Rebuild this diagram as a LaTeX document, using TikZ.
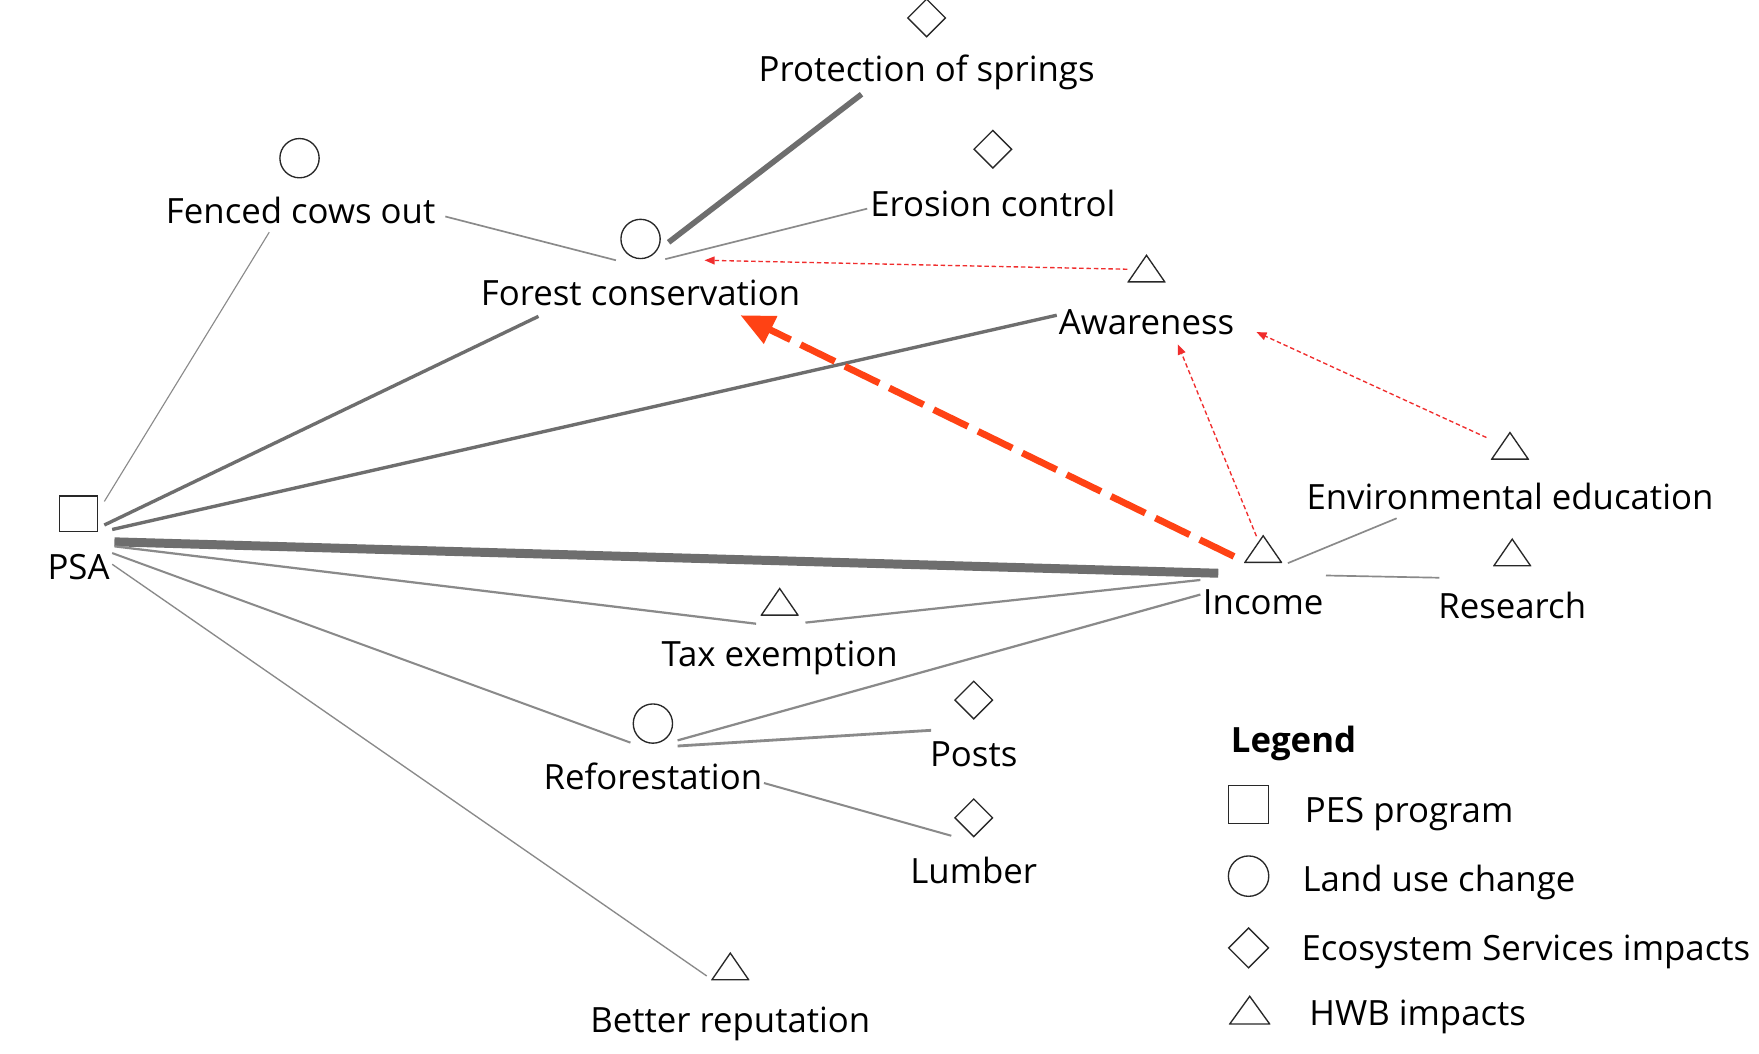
\documentclass[tikz,border=0pt]{standalone}
\usepackage{fontspec}
\setmainfont{Open Sans}
\usetikzlibrary{calc,shapes.geometric,arrows.meta}
\definecolor{edgedark}{RGB}{110,110,110}
\definecolor{edgelight}{RGB}{138,138,138}
\definecolor{redthin}{RGB}{240,45,45}
\definecolor{redthick}{RGB}{255,66,20}
\definecolor{shapeline}{RGB}{40,40,40}
\begin{document}
\begin{tikzpicture}[x=1pt,y=-1pt,
  lbl/.style={font=\fontsize{31}{36}\selectfont, anchor=base, inner sep=0pt},
  leglbl/.style={font=\fontsize{31}{36}\selectfont, anchor=base west, inner sep=0pt},
  circ/.style={circle, draw=shapeline, line width=1.2pt, minimum size=35pt, inner sep=0pt},
  diam/.style={diamond, draw=shapeline, line width=1.2pt, minimum width=34pt, minimum height=34pt, inner sep=0pt},
  sqr/.style={rectangle, draw=shapeline, line width=1.2pt, minimum width=34pt, minimum height=32pt, inner sep=0pt},
  tri/.style={minimum width=34pt, minimum height=26pt, inner sep=0pt,
    path picture={\draw[shapeline, line width=1.2pt, line join=miter]
      ([shift={(0.7pt,0.7pt)}]path picture bounding box.south west) --
      ([shift={(-0.7pt,0.7pt)}]path picture bounding box.south east) --
      ([shift={(0pt,-1.6pt)}]path picture bounding box.north) -- cycle;}},
  link/.style={draw=edgelight, line cap=butt},
  heavy/.style={draw=edgedark, line cap=butt},
  reddot/.style={draw=redthin, line width=1.2pt, dash pattern=on 4pt off 2.5pt,
    -{Triangle[length=9pt,width=7pt]}},
  redbig/.style={draw=redthick, line width=6pt, dash pattern=on 34pt off 10pt,
    -{Triangle[length=30pt,width=26pt]}}
]
\fill[white] (0,0) rectangle (1568,939);
\useasboundingbox (0,0) rectangle (1568,939);

% nodes
\node[sqr] (psa) at (70,458) {};
\node[lbl] (psaL) at (70,517) {PSA};
\node[circ] (fco) at (267,141) {};
\node[lbl] (fcoL) at (268,199) {Fenced cows out};
\node[circ] (fc) at (571,213) {};
\node[lbl] (fcL) at (571,272) {Forest conservation};
\node[diam] (ps) at (826,16) {};
\node[lbl] (psL) at (826,73) {Protection of springs};
\node[diam] (ec) at (885,133) {};
\node[lbl] (ecL) at (885,193) {Erosion control};
\node[tri] (aw) at (1022,239) {};
\node[lbl] (awL) at (1022,298) {Awareness};
\node[tri] (ee) at (1346,397) {};
\node[lbl] (eeL) at (1346,454) {Environmental education};
\node[tri] (inc) at (1126,489) {};
\node[lbl] (incL) at (1126,548) {Income};
\node[tri] (res) at (1348,492) {};
\node[lbl] (resL) at (1348,551) {Research};
\node[tri] (tax) at (695,536) {};
\node[lbl] (taxL) at (695,594) {Tax exemption};
\node[circ] (ref) at (582,645) {};
\node[lbl] (refL) at (582,704) {Reforestation};
\node[diam] (posts) at (868,624) {};
\node[lbl] (postsL) at (868,683) {Posts};
\node[diam] (lum) at (868,729) {};
\node[lbl] (lumL) at (868,788) {Lumber};
\node[tri] (br) at (651,861) {};
\node[lbl] (brL) at (651,920) {Better reputation};

% gray links
\draw[link, line width=1pt] ($(psa)+(23,-11)$) -- ($(fcoL.base)+(-28,8)$);
\draw[link, line width=1.5pt] ($(fcoL.base)+(129,-6)$) -- ($(fc)+(-22,19)$);
\draw[link, line width=1.5pt] ($(fc)+(22,18)$) -- ($(ecL.base)+(-112,-7)$);
\draw[heavy, line width=5pt] ($(psL.base)+(-58,11)$) -- ($(fc)+(25,3)$);
\draw[heavy, line width=3pt] ($(psa)+(23,10)$) -- ($(fcL.base)+(-91,10)$);
\draw[heavy, line width=3pt] ($(psa)+(30,14)$) -- ($(awL.base)+(-80,-17)$);
\draw[heavy, line width=8pt] ($(psa)+(32,25)$) -- ($(incL.base)+(-40,-37)$);
\draw[link, line width=2pt] ($(psa)+(32,29)$) -- ($(tax)+(-21,20)$);
\draw[link, line width=2pt] ($(tax)+(23,19)$) -- ($(incL.base)+(-56,-31)$);
\draw[link, line width=1.8pt] ($(psa)+(30,35)$) -- ($(ref)+(-20,17)$);
\draw[link, line width=2pt] ($(ref)+(22,15)$) -- ($(incL.base)+(-56,-18)$);
\draw[link, line width=2.5pt] ($(ref)+(22,20)$) -- ($(postsL.base)+(-38,-32)$);
\draw[link, line width=1.8pt] ($(refL.base)+(99,-6)$) -- ($(lum)+(-20,16)$);
\draw[link, line width=1.2pt] ($(psa)+(30,45)$) -- ($(br)+(-21,9)$);
\draw[link, line width=1.5pt] ($(inc)+(22,13)$) -- ($(eeL.base)+(-101,8)$);
\draw[link, line width=1.5pt] ($(incL.base)+(56,-35)$) -- ($(resL.base)+(-65,-36)$);

% red arrows
\draw[redbig] ($(inc)+(-26,7)$) -- ($(fcL.base)+(89,9)$);
\draw[reddot] ($(aw)+(-17,1)$) -- ($(fc)+(57,19)$);
\draw[reddot] ($(inc)+(-6,-11)$) -- ($(awL.base)+(28,9)$);
\draw[reddot] ($(ee)+(-21,-7)$) -- ($(awL.base)+(98,-2)$);

% legend
\node[leglbl, font=\bfseries\fontsize{31}{36}\selectfont] (legT) at (1097,671) {Legend};
\node[sqr, minimum width=36pt, minimum height=34pt] (lsq) at (1113,717) {};
\node[leglbl] (lsqL) at (1163,733) {PES program};
\node[circ, minimum size=36pt] (lci) at (1113,781) {};
\node[leglbl] (lciL) at (1161,795) {Land use change};
\node[diam, minimum width=36pt, minimum height=36pt] (ldi) at (1113,845) {};
\node[leglbl] (ldiL) at (1160,856) {Ecosystem Services impacts};
\node[tri, minimum width=37pt, minimum height=27pt] (ltr) at (1114,900) {};
\node[leglbl] (ltrL) at (1167,914) {HWB impacts};
\end{tikzpicture}
\end{document}
